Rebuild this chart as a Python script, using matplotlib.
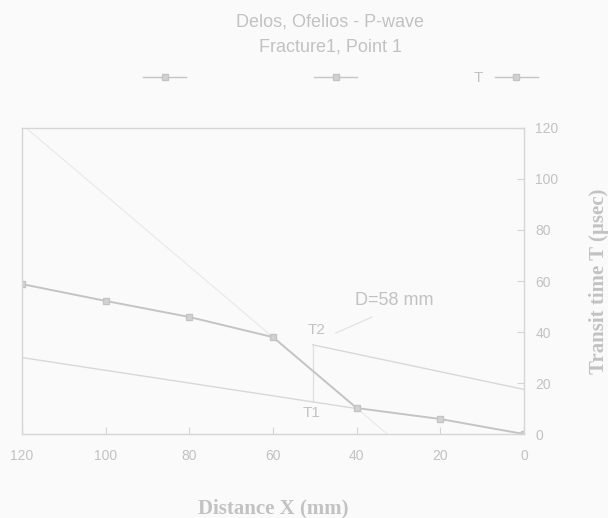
import matplotlib
matplotlib.use("Agg")
import matplotlib.pyplot as plt
from matplotlib.lines import Line2D

# measured points: distance X (mm) vs transit time T (usec)
distance = [0, 20, 40, 60, 80, 100, 120]
transit = [0, 5.9, 10.2, 38.0, 45.9, 52.2, 58.8]

# construction lines
t1_x = [40, 120]
t1_y = [10, 30]
t2_x = [0, 50.5]
t2_y = [17.5, 35]
steep_x = [32.7, 119]
steep_y = [0, 120]
d_x = [50.5, 50.5]
d_y = [12.6, 35]
lead_x = [45, 36.3]
lead_y = [39.6, 45.9]

title_lines = ["Delos, Ofelios - P-wave", "Fracture1, Point 1"]
legend_labels = ["", "", "T"]
ticks = [0, 20, 40, 60, 80, 100, 120]

ink = "#c4c4c4"
txt = "#c2c2c2"
bg = "#fafafa"

fig = plt.figure(figsize=(6.08, 5.18), dpi=100, facecolor=bg)
ax = fig.add_axes([0.036, 0.162, 0.826, 0.591], facecolor=bg)

ax.plot(steep_x, steep_y, color="#e8e8e8", lw=0.8)
ax.plot(t1_x, t1_y, color="#d8d8d8", lw=1.0)
ax.plot(t2_x, t2_y, color="#d8d8d8", lw=1.0)
ax.plot(d_x, d_y, color="#dedede", lw=0.9)
ax.plot(lead_x, lead_y, color="#e0e0e0", lw=0.8)
ax.plot(distance, transit, color=ink, lw=1.4, marker="s", ms=4,
        mfc="#d2d2d2", mec=ink)

ax.text(49.5, 40.8, "T2", color=txt, fontsize=11, ha="center", va="center",
        family="Liberation Sans")
ax.text(50.7, 8.3, "T1", color=txt, fontsize=11, ha="center", va="center",
        family="Liberation Sans")
ax.text(31, 52.5, "D=58 mm", color=txt, fontsize=13, ha="center", va="center",
        family="Liberation Sans")

ax.set_xlim(120, 0)
ax.set_ylim(0, 120)
ax.set_xticks(ticks)
ax.set_yticks(ticks)
ax.yaxis.tick_right()
ax.yaxis.set_label_position("right")
ax.tick_params(direction="in", colors="#d4d4d4", labelcolor=txt, labelsize=10,
               length=5, pad=8)
ax.tick_params(axis="x", pad=11)
for lab in ax.get_xticklabels() + ax.get_yticklabels():
    lab.set_family("Liberation Sans")
for sp in ax.spines.values():
    sp.set_color("#d6d6d6")
    sp.set_linewidth(1.0)

ax.set_xlabel("Distance X (mm)", color=txt, fontsize=15, fontweight="bold",
              family="Liberation Serif", labelpad=25)
ax.set_ylabel("Transit time T (µsec)", color=txt, fontsize=15, fontweight="bold",
              family="Liberation Serif", rotation=90, labelpad=22)

fig.text(0.543, 0.957, title_lines[0], color=txt, fontsize=13, ha="center",
         va="center", family="Liberation Sans")
fig.text(0.543, 0.909, title_lines[1], color=txt, fontsize=13, ha="center",
         va="center", family="Liberation Sans")

handles = [Line2D([], [], color=ink, lw=1.0, marker="s", ms=4, mfc="#d2d2d2",
                  mec=ink) for _ in legend_labels]
fig.legend(handles, legend_labels, loc="center", bbox_to_anchor=(0.55, 0.849),
           ncol=3, frameon=False, markerfirst=False, handlelength=2.8,
           columnspacing=7.6, labelcolor=txt,
           prop={"family": "Liberation Sans", "size": 11})

fig.savefig("out.png", dpi=100, facecolor=bg)
